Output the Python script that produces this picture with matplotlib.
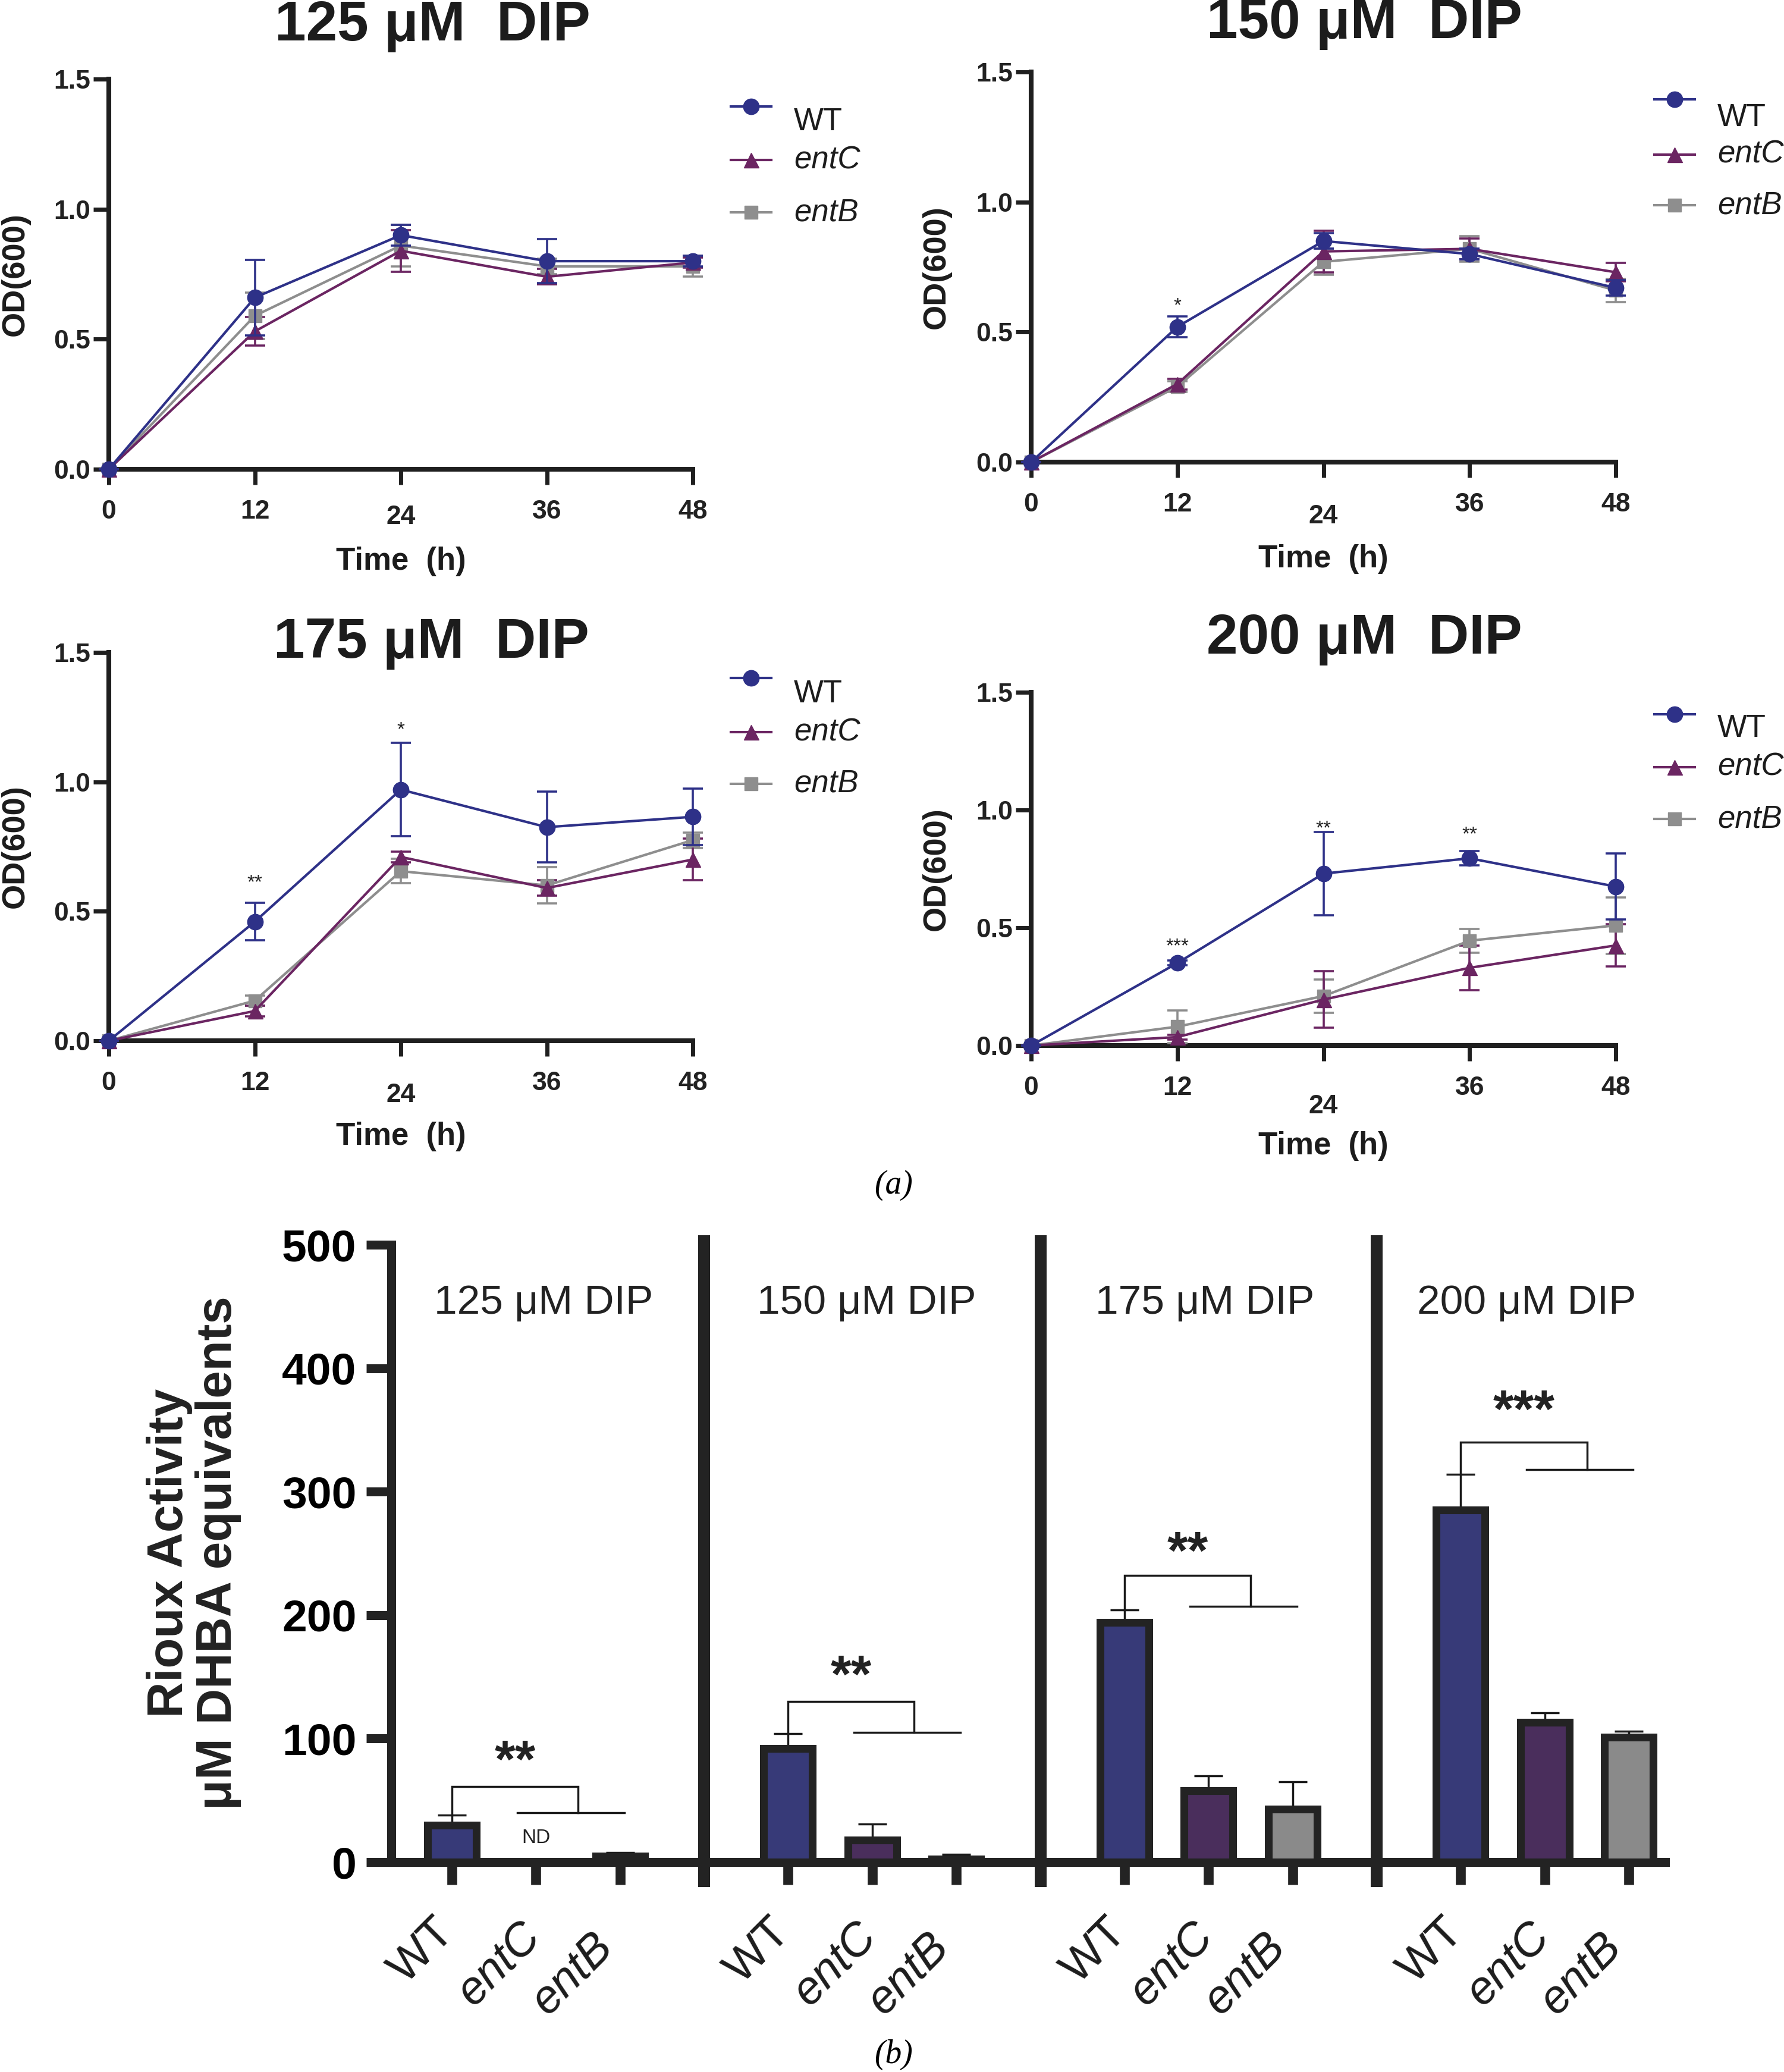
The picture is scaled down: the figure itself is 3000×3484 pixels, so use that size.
import matplotlib
matplotlib.use('Agg')
import matplotlib.pyplot as plt
from matplotlib.lines import Line2D
from matplotlib.transforms import offset_copy

plt.rcParams['font.family'] = ['Liberation Sans', 'DejaVu Sans']

W, H = 3000, 3484

# ---------------- data ----------------
time_h = [0, 12, 24, 36, 48]
strains = ['WT', 'entC', 'entB']
conc_titles = ['125 μM  DIP', '150 μM  DIP', '175 μM  DIP', '200 μM  DIP']
bar_titles = ['125 μM DIP', '150 μM DIP', '175 μM DIP', '200 μM DIP']
y_ticks_od = [0.0, 0.5, 1.0, 1.5]
y_ticklabels_od = ['0.0', '0.5', '1.0', '1.5']

wt_125 = [0.0, 0.66, 0.90, 0.80, 0.80]
wt_125_sd = [0.0, 0.145, 0.04, 0.085, 0.02]
entc_125 = [0.0, 0.53, 0.84, 0.74, 0.795]
entc_125_sd = [0.0, 0.055, 0.08, 0.03, 0.02]
entb_125 = [0.0, 0.59, 0.86, 0.78, 0.78]
entb_125_sd = [0.0, 0.09, 0.08, 0.03, 0.04]

wt_150 = [0.0, 0.52, 0.85, 0.80, 0.67]
wt_150_sd = [0.0, 0.04, 0.03, 0.02, 0.03]
entc_150 = [0.0, 0.30, 0.81, 0.82, 0.73]
entc_150_sd = [0.0, 0.02, 0.08, 0.04, 0.035]
entb_150 = [0.0, 0.29, 0.77, 0.82, 0.66]
entb_150_sd = [0.0, 0.02, 0.05, 0.05, 0.045]

wt_175 = [0.0, 0.46, 0.97, 0.825, 0.865]
wt_175_sd = [0.0, 0.072, 0.18, 0.137, 0.11]
entc_175 = [0.0, 0.115, 0.71, 0.59, 0.70]
entc_175_sd = [0.0, 0.02, 0.02, 0.03, 0.08]
entb_175 = [0.0, 0.155, 0.655, 0.60, 0.775]
entb_175_sd = [0.0, 0.02, 0.047, 0.07, 0.03]

wt_200 = [0.0, 0.35, 0.73, 0.795, 0.675]
wt_200_sd = [0.0, 0.01, 0.177, 0.03, 0.14]
entc_200 = [0.0, 0.036, 0.195, 0.33, 0.425]
entc_200_sd = [0.0, 0.01, 0.12, 0.095, 0.09]
entb_200 = [0.0, 0.08, 0.21, 0.445, 0.51]
entb_200_sd = [0.0, 0.07, 0.07, 0.05, 0.12]

stars_125 = []
stars_150 = [(12, 0.60, '*')]
stars_175 = [(12, 0.61, '**'), (24, 1.20, '*')]
stars_200 = [(12, 0.42, '***'), (24, 0.92, '**'), (36, 0.895, '**')]

# Rioux assay (uM DHBA equivalents)
bar_wt = [30, 92, 194, 285]
bar_wt_sd = [8, 12, 10, 29]
bar_entc = [0, 18, 58, 113]      # 0 = not detected (ND)
bar_entc_sd = [0, 13, 12, 8]
bar_entb = [5, 2.5, 43, 101]
bar_entb_sd = [2.5, 4, 22, 5]
bracket_top = [61, 130, 232, 340]
bracket_low = [40, 105, 207, 318]
sig_labels = ['**', '**', '**', '***']
sig_y = [80, 149, 249, 364]
bar_y_ticks = [0, 100, 200, 300, 400, 500]

# ---------------- style ----------------
line_col = {'WT': '#2e3188', 'entC': '#6b2562', 'entB': '#8e8e8e'}
bar_col = {'WT': '#373a78', 'entC': '#4a2e5c', 'entB': '#8a8a8a'}
mk = {'WT': 'o', 'entC': '^', 'entB': 's'}
msz = {'WT': 19, 'entC': 18, 'entB': 16}
lab_off = {'WT': (-50, -150), 'entC': (-62, -172), 'entB': (-80, -188)}
AX = '#1f1f1f'

fig = plt.figure(figsize=(W / 100, H / 100), dpi=100)


def fx(px):
    return px / W


def fy(py):
    return 1 - py / H


panels = [
    dict(box=(183, 1165, 133, 789), title=(727, 44), data=(wt_125, entc_125, entb_125),
         sd=(wt_125_sd, entc_125_sd, entb_125_sd), stars=stars_125,
         leg_x=1263, leg_my=(179, 269, 357), leg_ty=(205, 270, 357), pad24=6, ylab_x=26, xlab_y=944),
    dict(box=(1734, 2717, 121, 777), title=(2294, 40), data=(wt_150, entc_150, entb_150),
         sd=(wt_150_sd, entc_150_sd, entb_150_sd), stars=stars_150,
         leg_x=2816, leg_my=(167, 260, 345), leg_ty=(198, 260, 345), pad24=14, ylab_x=1575, xlab_y=940),
    dict(box=(183, 1165, 1097, 1750), title=(725, 1082), data=(wt_175, entc_175, entb_175),
         sd=(wt_175_sd, entc_175_sd, entb_175_sd), stars=stars_175,
         leg_x=1263, leg_my=(1140, 1231, 1318), leg_ty=(1167, 1231, 1318), pad24=14, ylab_x=26, xlab_y=1911),
    dict(box=(1734, 2717, 1164, 1758), title=(2294, 1074), data=(wt_200, entc_200, entb_200),
         sd=(wt_200_sd, entc_200_sd, entb_200_sd), stars=stars_200,
         leg_x=2816, leg_my=(1201, 1290, 1377), leg_ty=(1225, 1290, 1377), pad24=22, ylab_x=1575, xlab_y=1927),
]

for k, p in enumerate(panels):
    l, r, t, b = p['box']
    ax = fig.add_axes([fx(l), fy(b), (r - l) / W, (b - t) / H])
    ax.set_xlim(0, 48)
    ax.set_ylim(0, 1.5)
    for name in ['entB', 'entC', 'WT']:
        i = strains.index(name)
        ax.errorbar(time_h, p['data'][i], yerr=p['sd'][i], color=line_col[name],
                    marker=mk[name], ms=msz[name], lw=3.0, elinewidth=2.6,
                    capsize=12, capthick=2.6, clip_on=False, zorder=4 + (name == 'WT'))
    for (tx, ty, s) in p['stars']:
        ax.text(tx, ty, s, ha='center', va='center', fontsize=24, color='#222222')
    for side in ['top', 'right']:
        ax.spines[side].set_visible(False)
    for side in ['left', 'bottom']:
        ax.spines[side].set_linewidth(5.8)
        ax.spines[side].set_color(AX)
    ax.set_xticks(time_h)
    ax.set_xticklabels([str(v) for v in time_h])
    ax.set_yticks(y_ticks_od)
    ax.set_yticklabels(y_ticklabels_od)
    ax.tick_params(axis='both', direction='out', length=19, width=5, color=AX,
                   labelsize=32, labelcolor='#222222')
    ax.tick_params(axis='x', pad=18)
    ax.tick_params(axis='y', pad=3)
    for lbl in ax.get_xticklabels() + ax.get_yticklabels():
        lbl.set_fontweight('bold')
    ax.xaxis.get_major_ticks()[2].set_pad(18 + p['pad24'])
    # titles and labels
    fig.text(fx(p['title'][0]), fy(p['title'][1]), conc_titles[k], ha='center', va='center',
             fontsize=68, fontweight='bold', color='#1c1c1c')
    fig.text(fx(p['ylab_x']), fy((t + b) / 2), 'OD(600)', rotation=90, ha='center', va='center',
             fontsize=39, fontweight='bold', color='#1c1c1c')
    fig.text(fx((l + r) / 2), fy(p['xlab_y']), 'Time  (h)', ha='center', va='center',
             fontsize=38, fontweight='bold', color='#1c1c1c')
    # legend
    for j, name in enumerate(strains):
        my = p['leg_my'][j]
        fig.add_artist(Line2D([fx(p['leg_x'] - 34), fx(p['leg_x'] + 34)], [fy(my), fy(my)],
                              color=line_col[name], lw=3.0))
        fig.add_artist(Line2D([fx(p['leg_x'])], [fy(my)], color=line_col[name],
                              marker=mk[name], ms=msz[name], lw=0))
        fig.text(fx(p['leg_x'] + 72), fy(p['leg_ty'][j]), name, ha='left', va='center',
                 fontsize=38, style='normal' if name == 'WT' else 'italic', color='#1c1c1c')

# captions
fig.text(fx(1502), fy(1993), '(a)', ha='center', va='center', fontsize=40,
         family=['Liberation Serif'], style='italic')
fig.text(fx(1502), fy(3455), '(b)', ha='center', va='center', fontsize=40,
         family=['Liberation Serif'], style='italic')

# ---------------- bar chart ----------------
bx = fig.add_axes([fx(658), fy(3131), (2800 - 658) / W, (3131 - 2093) / H])
bx.set_xlim(-0.72, 14.43)
bx.set_ylim(0, 500)
groups = range(4)
bar_sets = [(bar_wt, bar_wt_sd), (bar_entc, bar_entc_sd), (bar_entb, bar_entb_sd)]
for i, name in enumerate(strains):
    vals, sds = bar_sets[i]
    xs = [g * 4 + i for g in groups if vals[g] > 0]
    vs = [vals[g] for g in groups if vals[g] > 0]
    es = [sds[g] for g in groups if vals[g] > 0]
    bx.bar(xs, vs, width=0.58, color=bar_col[name], edgecolor='#232323', linewidth=9.4, zorder=3)
    bx.errorbar(xs, vs, yerr=[[0] * len(es), es], fmt='none', ecolor='#1a1a1a',
                elinewidth=2.5, capsize=17, capthick=2.5, zorder=2)

for g in groups:
    x0 = g * 4
    if bar_entc[g] == 0:
        bx.text(x0 + 1, 19.5, 'ND', ha='center', va='center', fontsize=24, color='#222222')
    top = bracket_top[g]
    left_bottom = bar_wt[g] + bar_wt_sd[g]
    bx.plot([x0, x0, x0 + 1.5, x0 + 1.5], [left_bottom, top, top, bracket_low[g]],
            color='#1a1a1a', lw=2.5, solid_joinstyle='miter', zorder=4)
    bx.plot([x0 + 0.78, x0 + 2.05], [bracket_low[g], bracket_low[g]], color='#1a1a1a', lw=2.5, zorder=4)
    bx.text(x0 + 0.75, sig_y[g], sig_labels[g], ha='center', va='center', fontsize=64,
            fontweight='bold', color='#222222')
    bx.text(x0 + [1.09, 0.93, 0.96, 0.78][g], 453, bar_titles[g], ha='center', va='center',
            fontsize=50, color='#222222')

for s in [3, 7, 11]:
    bx.axvline(s, ymin=-0.040, ymax=1.015, color='#232323', lw=14.4, clip_on=False,
               solid_capstyle='butt', zorder=5)

for side in ['top', 'right']:
    bx.spines[side].set_visible(False)
for side in ['left', 'bottom']:
    bx.spines[side].set_linewidth(10.8)
    bx.spines[side].set_color('#232323')
bx.set_yticks(bar_y_ticks)
bx.set_yticklabels([str(v) for v in bar_y_ticks])
tick_pos = [g * 4 + i for g in groups for i in range(3)]
tick_lab = [strains[i] for g in groups for i in range(3)]
bx.set_xticks(tick_pos)
bx.tick_params(axis='y', direction='out', length=30, width=10.8, color='#232323',
               labelsize=54, pad=12)
bx.tick_params(axis='x', direction='out', length=27, width=12, color='#232323',
               labelbottom=False)
for lbl in bx.get_yticklabels():
    lbl.set_fontweight('bold')
for xpos, lab in zip(tick_pos, tick_lab):
    dx, dy = lab_off[lab]
    tr = offset_copy(bx.get_xaxis_transform(), fig=fig, x=dx, y=dy, units='dots')
    bx.text(xpos, 0, lab, transform=tr, rotation=45, rotation_mode='anchor',
            ha='center', va='center', fontsize=56, color='#1c1c1c',
            style='normal' if lab == 'WT' else 'italic')

fig.text(fx(326), fy(2611), 'Rioux Activity\nμM DHBA equivalents', rotation=90,
         ha='center', va='center', multialignment='center', linespacing=1.05,
         fontsize=60, fontweight='bold', color='#222222')

fig.savefig('out.png', dpi=100, facecolor='white')
